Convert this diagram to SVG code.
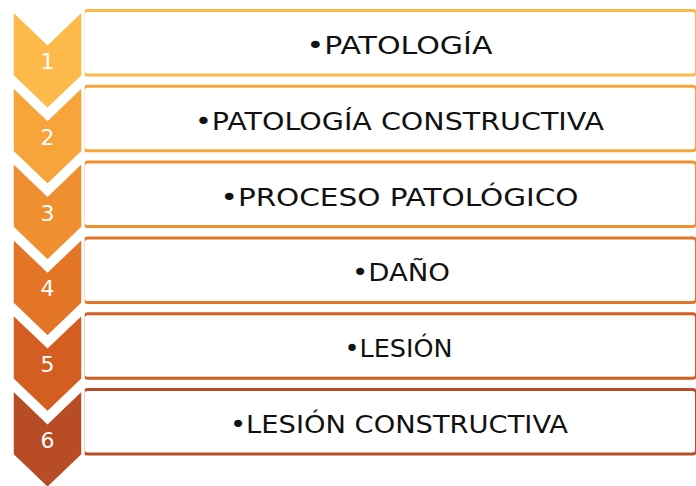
<svg xmlns="http://www.w3.org/2000/svg" width="696" height="486" viewBox="0 0 696 486">
<style>
.box{fill:#fff;stroke-width:3}
.chev{stroke:#fff;stroke-width:3.5;stroke-linejoin:miter}
.num{font-family:"DejaVu Sans","Liberation Sans",sans-serif;font-size:22px;fill:#fff;text-anchor:middle}
.lbl{font-family:"DejaVu Sans","Liberation Sans",sans-serif;font-size:24px;fill:#111;text-anchor:middle}
</style>
<rect width="696" height="486" fill="#fff"/>
<g id="node1">
<rect class="box" x="83.5" y="10.5" width="613" height="64.5" rx="4" stroke="#FDBA4B"/>
<path class="chev" fill="#FDBA4B" d="M12,9 L47.5,43 L83,9 L83,76 L47.5,110 L12,76 Z"/>
<text class="num" x="47.5" y="69">1</text>
<text class="lbl" x="399.5" y="54" textLength="186" lengthAdjust="spacingAndGlyphs">•PATOLOGÍA</text>
</g>
<g id="node2">
<rect class="box" x="83.5" y="86.3" width="613" height="64.5" rx="4" stroke="#F7A43B"/>
<path class="chev" fill="#F7A43B" d="M12,84.8 L47.5,118.8 L83,84.8 L83,151.8 L47.5,185.8 L12,151.8 Z"/>
<text class="num" x="47.5" y="144.8">2</text>
<text class="lbl" x="399.5" y="129.8" textLength="409" lengthAdjust="spacingAndGlyphs">•PATOLOGÍA CONSTRUCTIVA</text>
</g>
<g id="node3">
<rect class="box" x="83.5" y="162.1" width="613" height="64.5" rx="4" stroke="#EF8F30"/>
<path class="chev" fill="#EF8F30" d="M12,160.6 L47.5,194.6 L83,160.6 L83,227.6 L47.5,261.6 L12,227.6 Z"/>
<text class="num" x="47.5" y="220.6">3</text>
<text class="lbl" x="399.5" y="205.6" textLength="358" lengthAdjust="spacingAndGlyphs">•PROCESO PATOLÓGICO</text>
</g>
<g id="node4">
<rect class="box" x="83.5" y="237.9" width="613" height="64.5" rx="4" stroke="#E47526"/>
<path class="chev" fill="#E47526" d="M12,236.4 L47.5,270.4 L83,236.4 L83,303.4 L47.5,337.4 L12,303.4 Z"/>
<text class="num" x="47.5" y="296.4">4</text>
<text class="lbl" x="401" y="281.4" textLength="98" lengthAdjust="spacingAndGlyphs">•DAÑO</text>
</g>
<g id="node5">
<rect class="box" x="83.5" y="313.7" width="613" height="64.5" rx="4" stroke="#D45E22"/>
<path class="chev" fill="#D45E22" d="M12,312.2 L47.5,346.2 L83,312.2 L83,379.2 L47.5,413.2 L12,379.2 Z"/>
<text class="num" x="47.5" y="372.2">5</text>
<text class="lbl" x="398.5" y="357.2" textLength="108" lengthAdjust="spacingAndGlyphs">•LESIÓN</text>
</g>
<g id="node6">
<rect class="box" x="83.5" y="389.5" width="613" height="64.5" rx="4" stroke="#B84C27"/>
<path class="chev" fill="#B84C27" d="M12,388 L47.5,422 L83,388 L83,455 L47.5,489 L12,455 Z"/>
<text class="num" x="47.5" y="448">6</text>
<text class="lbl" x="399" y="433" textLength="338" lengthAdjust="spacingAndGlyphs">•LESIÓN CONSTRUCTIVA</text>
</g>
<g id="connectors"></g>
</svg>
